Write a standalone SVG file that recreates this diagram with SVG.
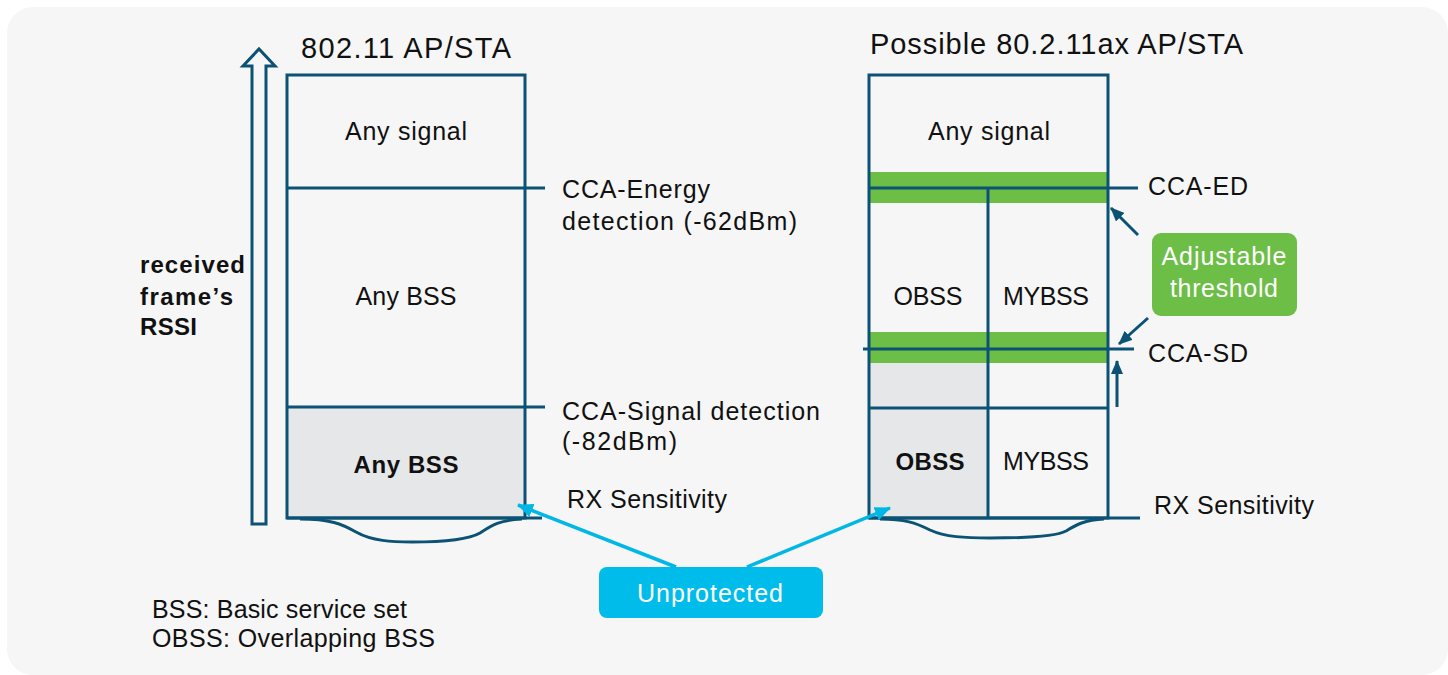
<svg xmlns="http://www.w3.org/2000/svg" width="1448" height="675" viewBox="0 0 1448 675">
<style>
text{font-family:"Liberation Sans",Arial,sans-serif;fill:#111;font-size:25px}
.t{font-size:29px}
.b{font-weight:bold;font-size:24px}
.c{text-anchor:middle}
.w{fill:#fff}
.ln{stroke:#0b5274;stroke-width:3;fill:none}
.gray{fill:#e6e7e9}
.green{fill:#6dbe47}
.cy{stroke:#00b7e6;stroke-width:3.5;fill:none}
.dk{stroke:#0b5274;stroke-width:3;fill:none}
</style>
<defs>
<marker id="ac" markerUnits="userSpaceOnUse" markerWidth="16" markerHeight="14" refX="15" refY="7" orient="auto"><path d="M0,0 L16,7 L0,14 z" fill="#00b7e6"/></marker>
<marker id="ad" markerUnits="userSpaceOnUse" markerWidth="14" markerHeight="12" refX="13" refY="6" orient="auto"><path d="M0,0 L14,6 L0,12 z" fill="#0b5274"/></marker>
</defs>
<rect x="7" y="7" width="1441" height="668" rx="26" fill="#f6f6f6"/>

<g id="axis">
<path class="ln" stroke-width="3.5" stroke-linejoin="miter" d="M252,524 L252,66 L243,66 L259,49 L275,66 L266,66 L266,524 Z"/>
<text class="b" x="140" y="273" textLength="105">received</text>
<text class="b" x="140" y="305" textLength="93">frame’s</text>
<text class="b" x="140" y="335" textLength="57">RSSI</text>
</g>

<g id="left-stack">
<text class="t c" x="406" y="58" textLength="210">802.11 AP/STA</text>
<rect class="gray" x="287" y="407" width="238" height="111"/>
<rect class="ln" x="287" y="75" width="238" height="443"/>
<line class="ln" x1="287" y1="188" x2="545" y2="188"/>
<line class="ln" x1="287" y1="407" x2="545" y2="407"/>
<line class="ln" x1="287" y1="518" x2="542" y2="518"/>
<path class="ln" d="M300,519 C330,519 342,524 356,532 C372,541 392,542 412,542 C440,542 468,540 480,533 C492,525 500,520 522,519"/>
<text class="c" x="406" y="140" textLength="122">Any signal</text>
<text class="c" x="406" y="305" textLength="101">Any BSS</text>
<text class="c b" x="406" y="473" textLength="105">Any BSS</text>
<text x="562" y="198" textLength="148">CCA-Energy</text>
<text x="562" y="230" textLength="235">detection (-62dBm)</text>
<text x="562" y="420" textLength="258">CCA-Signal detection</text>
<text x="562" y="450" textLength="115">(-82dBm)</text>
<text x="567" y="508" textLength="160">RX Sensitivity</text>
</g>

<g id="right-stack">
<text class="t" x="870" y="54" textLength="373">Possible 80.2.11ax AP/STA</text>
<rect class="gray" x="869" y="363" width="119" height="155"/>
<rect class="green" x="869" y="172" width="239" height="31"/>
<rect class="green" x="869" y="332" width="239" height="31"/>
<rect class="ln" x="869" y="75" width="239" height="443"/>
<line class="ln" x1="869" y1="188" x2="1138" y2="188"/>
<line class="ln" x1="988" y1="188" x2="988" y2="518"/>
<line class="ln" x1="863" y1="349" x2="1134" y2="349"/>
<line class="ln" x1="869" y1="408" x2="1108" y2="408"/>
<line class="ln" x1="869" y1="518" x2="1140" y2="518"/>
<path class="ln" d="M880,519 C905,519 916,523 930,530 C945,537 965,538 990,538 C1025,538 1055,537 1066,531 C1076,525 1084,520 1104,519"/>
<text class="c" x="989" y="140" textLength="122">Any signal</text>
<text class="c" x="928" y="305" textLength="69">OBSS</text>
<text class="c" x="1046" y="305" textLength="86">MYBSS</text>
<text class="c b" x="930" y="470" textLength="69">OBSS</text>
<text class="c" x="1046" y="470" textLength="86">MYBSS</text>
<text x="1148" y="195" textLength="100">CCA-ED</text>
<text x="1148" y="362" textLength="100">CCA-SD</text>
<text x="1154" y="514" textLength="160">RX Sensitivity</text>
</g>

<g id="adjustable-threshold">
<rect class="green" x="1152" y="233" width="145" height="83" rx="9"/>
<text class="c w" x="1224" y="265" textLength="125">Adjustable</text>
<text class="c w" x="1224" y="297" textLength="108">threshold</text>
</g>

<g id="unprotected">
<rect x="599" y="567" width="224" height="51" rx="8" fill="#00bceb"/>
<text class="c w" x="710" y="602" textLength="146">Unprotected</text>
</g>

<g id="legend">
<text x="152" y="618" textLength="255">BSS: Basic service set</text>
<text x="152" y="647" textLength="283">OBSS: Overlapping BSS</text>
</g>

<g id="connectors">
<line class="dk" x1="1138" y1="235" x2="1111" y2="208" marker-end="url(#ad)"/>
<line class="dk" x1="1148" y1="318" x2="1119" y2="344" marker-end="url(#ad)"/>
<line class="dk" x1="1117" y1="407" x2="1117" y2="361" marker-end="url(#ad)"/>
<line class="cy" x1="676" y1="567" x2="518" y2="505" marker-end="url(#ac)"/>
<line class="cy" x1="747" y1="567" x2="890" y2="508" marker-end="url(#ac)"/>
</g>
</svg>
